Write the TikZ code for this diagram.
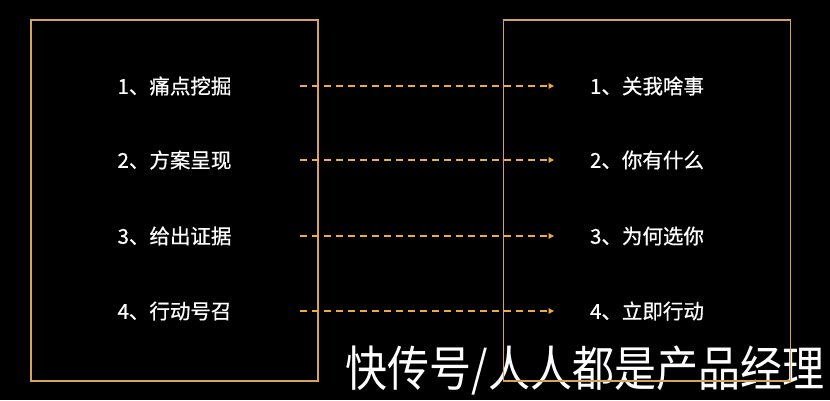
\documentclass[tikz,border=0pt]{standalone}
\usepackage{fontspec}
\newfontfamily\cjk{Noto Sans CJK SC}
\newfontfamily\cjkbold[FakeBold=0.6]{Noto Sans CJK SC}
\usetikzlibrary{positioning,arrows.meta}
\definecolor{gold}{RGB}{214,162,92}
\definecolor{dashgold}{RGB}{238,172,64}

\tikzset{
  panel/.style={draw=gold, line width=1.6pt, minimum width=287pt, minimum height=361pt, inner sep=0pt},
  item/.style={text=white, font=\cjkbold\fontsize{20.5}{24}\selectfont, inner sep=0pt},
  link/.style={draw=dashgold, line width=1.3pt, dash pattern=on 7pt off 5pt, -{Triangle[length=5.5pt,width=5.5pt]}},
  mark text/.style={text=white, font=\cjk\fontsize{42}{48}\selectfont, yscale=1.15, inner sep=0pt}
}

\begin{document}
\begin{tikzpicture}[x=1pt,y=-1pt]
    \fill[black] (0,0) rectangle (830,400);
    \useasboundingbox (0,0) rectangle (830,400);
    % watermark
    \node[mark text] (wm) at (585,371) {快传号/人人都是产品经理};
    % two panels
    \node[panel] (left) at (174.5,200.5) {};
    \node[panel] (right) at (647,200.5) {};
    % items and links
    \foreach \i/\y/\a/\b in {1/86/痛点挖掘/关我啥事, 2/160/方案呈现/你有什么, 3/236/给出证据/为何选你, 4/311/行动号召/立即行动} {
        \node[item] (l\i) at (174.5,\y) {\i、\a};
        \node[item] (r\i) at (647,\y) {\i、\b};
        \coordinate (s\i) at (300,\y);
        \coordinate (e\i) at (554,\y);
        \draw[link] (s\i) -- (e\i);
    }
\end{tikzpicture}
\end{document}
